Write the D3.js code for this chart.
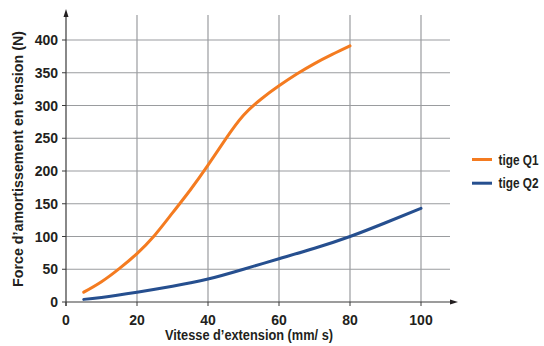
<!DOCTYPE html>
<html><head><meta charset="utf-8">
<script src="https://cdn.jsdelivr.net/npm/d3@7"></script>
<style>body{margin:0;background:#fff}text{font-family:"Liberation Sans Narrow","Arial Narrow","Liberation Sans",sans-serif;font-weight:bold;fill:#231f20}</style>
</head><body><svg id="c" width="544" height="346"></svg>
<script>
const xTicks = [0, 20, 40, 60, 80, 100];
const yTicks = [0, 50, 100, 150, 200, 250, 300, 350, 400];
const q1X = [5, 10, 15, 20, 25, 30, 35, 40, 45, 50, 55, 60, 65, 70, 75, 80];
const q1Y = [15, 31, 51, 74, 102, 136, 171, 209, 249, 285, 310, 330, 348, 364, 378, 391];
const q2X = [5, 10, 20, 30, 40, 50, 60, 70, 80, 90, 100];
const q2Y = [4, 7, 15, 24, 35, 50, 66, 82, 100, 121, 143];
const seriesNames = ["tige Q1", "tige Q2"];
const colors = ["#f47b20", "#264f8f"];

const svg = d3.select("#c");
const x = d3.scaleLinear().domain([0, 100]).range([66, 421]);
const y = d3.scaleLinear().domain([0, 400]).range([302, 40]);
const grid = "#9a9c9f";

svg.append("g").selectAll("line").data(xTicks.slice(1)).join("line")
  .attr("x1", d => x(d)).attr("x2", d => x(d)).attr("y1", 15).attr("y2", y(0))
  .attr("stroke", grid).attr("stroke-width", 1.2);
svg.append("g").selectAll("line").data(yTicks.slice(1)).join("line")
  .attr("x1", x(0)).attr("x2", 450).attr("y1", d => y(d)).attr("y2", d => y(d))
  .attr("stroke", grid).attr("stroke-width", 1.2);

svg.append("line").attr("x1", x(0)).attr("x2", 452).attr("y1", y(0)).attr("y2", y(0)).attr("stroke", "#3a3a3a").attr("stroke-width", 1.2);
svg.append("path").attr("d", `M458,${y(0)} L450,${y(0)-2.5} L450,${y(0)+2.5}Z`).attr("fill", "#231f20");
svg.append("line").attr("x1", x(0)).attr("x2", x(0)).attr("y1", 14).attr("y2", y(0)+4).attr("stroke", "#3a3a3a").attr("stroke-width", 1.2);
svg.append("path").attr("d", `M${x(0)},9 L${x(0)-2.5},17 L${x(0)+2.5},17Z`).attr("fill", "#231f20");

svg.append("g").selectAll("line").data(yTicks).join("line")
  .attr("x1", x(0) - 4).attr("x2", x(0)).attr("y1", d => y(d)).attr("y2", d => y(d)).attr("stroke", "#3a3a3a");
svg.append("g").selectAll("line").data(xTicks).join("line")
  .attr("x1", d => x(d)).attr("x2", d => x(d)).attr("y1", y(0)).attr("y2", y(0) + 4).attr("stroke", "#3a3a3a");

svg.append("g").selectAll("text").data(yTicks).join("text")
  .attr("x", x(0) - 8).attr("y", d => y(d) + 5).attr("text-anchor", "end")
  .attr("font-size", 14).text(d => d);
svg.append("g").selectAll("text").data(xTicks).join("text")
  .attr("x", d => x(d)).attr("y", y(0) + 23).attr("text-anchor", "middle")
  .attr("font-size", 14).text(d => d);

svg.append("text").attr("x", 165).attr("y", 340).attr("font-size", 14)
  .attr("textLength", 168).attr("lengthAdjust", "spacingAndGlyphs")
  .text("Vitesse d\u2019extension (mm/ s)");
svg.append("text").attr("transform", "translate(23,287) rotate(-90)").attr("font-size", 14)
  .attr("textLength", 256).attr("lengthAdjust", "spacingAndGlyphs")
  .text("Force d\u2019amortissement en tension (N)");

const line = d3.line().x(d => x(d[0])).y(d => y(d[1])).curve(d3.curveNatural);
[[q1X, q1Y], [q2X, q2Y]].forEach((s, i) => {
  svg.append("path").attr("d", line(s[0].map((v, j) => [v, s[1][j]])))
    .attr("fill", "none").attr("stroke", colors[i]).attr("stroke-width", 3).attr("stroke-linecap", "round");
});

seriesNames.forEach((n, i) => {
  const ly = 159.5 + i * 23.7;
  svg.append("line").attr("x1", 472).attr("x2", 492).attr("y1", ly).attr("y2", ly).attr("stroke", colors[i]).attr("stroke-width", 3);
  svg.append("text").attr("x", 498.5).attr("y", ly + 5).attr("font-size", 14)
    .attr("textLength", 40).attr("lengthAdjust", "spacingAndGlyphs").text(n);
});
</script></body></html>
